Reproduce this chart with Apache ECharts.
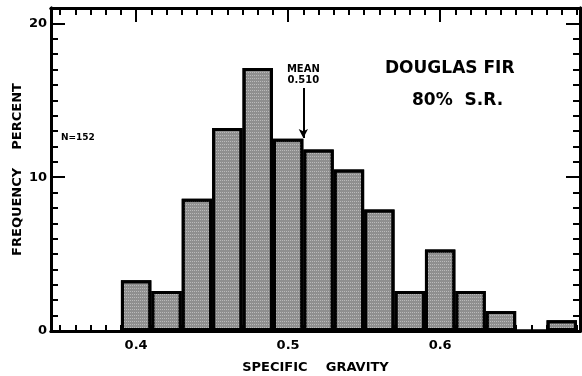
<!DOCTYPE html>
<html>
<head>
<meta charset="utf-8">
<script src="https://cdn.jsdelivr.net/npm/echarts@6/dist/echarts.min.js"></script>
<style>
  html, body { margin: 0; padding: 0; background: #fff; }
  #main { width: 582px; height: 376px; }
</style>
</head>
<body>
<div id="main"></div>
<script>
// bin centres (specific gravity) and frequency percent (N = 152)
var binCenters = [0.40, 0.42, 0.44, 0.46, 0.48, 0.50, 0.52, 0.54, 0.56, 0.58, 0.60, 0.62, 0.64, 0.66, 0.68];
var freqPercent = [3.3, 2.6, 8.6, 13.2, 17.1, 12.5, 11.8, 10.5, 7.9, 2.6, 5.3, 2.6, 1.3, 0, 0.7];

var xMinorTicks = [0.35, 0.36, 0.37, 0.38, 0.39, 0.40, 0.41, 0.42, 0.43, 0.44, 0.45, 0.46, 0.47, 0.48, 0.49,
  0.50, 0.51, 0.52, 0.53, 0.54, 0.55, 0.56, 0.57, 0.58, 0.59, 0.60, 0.61, 0.62, 0.63, 0.64, 0.65, 0.66,
  0.67, 0.68, 0.69];
var xMajorTicks = [0.4, 0.5, 0.6];
var yMajorTicks = [0, 10, 20];
var meanValue = 0.510;

var FONT = 'DejaVu Sans';
var xMin = 0.344, xMax = 0.692;

function xAxisDef(pos, ticks, len, labels) {
  return {
    type: 'value', position: pos, min: xMin, max: xMax,
    axisLine: { show: true, onZero: false, lineStyle: { color: '#000', width: 3 } },
    axisTick: { show: true, inside: true, length: len, customValues: ticks, lineStyle: { color: '#000', width: 2 } },
    axisLabel: labels ? {
      show: true, customValues: labels, color: '#000', fontFamily: FONT, fontWeight: 'bold', fontSize: 13, margin: 8
    } : { show: false },
    splitLine: { show: false }
  };
}
function yAxisDef(pos, ticks, len, labels) {
  return {
    type: 'value', position: pos, min: 0, max: 21,
    axisLine: { show: true, lineStyle: { color: '#000', width: 3 } },
    axisTick: { show: true, inside: true, length: len, customValues: ticks, lineStyle: { color: '#000', width: 2 } },
    axisLabel: labels ? {
      show: true, customValues: labels, color: '#000', fontFamily: FONT, fontWeight: 'bold', fontSize: 13, margin: 4
    } : { show: false },
    splitLine: { show: false }
  };
}

var yMinor = [];
for (var i = 1; i <= 20; i++) yMinor.push(i);

var xBottom = xAxisDef('bottom', xMinorTicks, 6, null);
var xBottomMajor = xAxisDef('bottom', xMajorTicks, 12, xMajorTicks);
xBottomMajor.name = 'SPECIFIC    GRAVITY';
xBottomMajor.nameLocation = 'middle';
xBottomMajor.nameGap = 30;
xBottomMajor.nameTextStyle = { color: '#000', fontFamily: FONT, fontWeight: 'bold', fontSize: 13 };

var yLeftMinor = yAxisDef('left', yMinor, 7, null);
yLeftMinor.name = 'FREQUENCY    PERCENT';
yLeftMinor.nameLocation = 'middle';
yLeftMinor.nameGap = 27;
yLeftMinor.nameTextStyle = { color: '#000', fontFamily: FONT, fontWeight: 'bold', fontSize: 13 };

var option = {
  backgroundColor: '#fff',
  animation: false,
  grid: { left: 51, right: 2, top: 8, bottom: 45, containLabel: false, outerBoundsMode: 'none' },
  xAxis: [
    xBottom,
    xBottomMajor,
    xAxisDef('top', xMinorTicks, 7, null),
    xAxisDef('top', xMajorTicks, 14, null)
  ],
  yAxis: [
    yLeftMinor,
    yAxisDef('left', yMajorTicks, 14, yMajorTicks),
    yAxisDef('right', yMinor, 7, null),
    yAxisDef('right', yMajorTicks, 14, null)
  ],
  series: [{
    type: 'bar',
    xAxisIndex: 0,
    yAxisIndex: 0,
    barWidth: 30.4,
    data: binCenters.map(function (x, i) { return [x, freqPercent[i]]; }),
    itemStyle: {
      color: '#8f8f8f',
      borderColor: '#000',
      borderWidth: 3,
      decal: {
        symbol: 'rect', symbolSize: 1, color: 'rgba(230,230,230,0.5)',
        dashArrayX: [1, 1], dashArrayY: [1, 2], rotation: 0
      }
    },
    markLine: {
      silent: true,
      symbol: ['none', 'arrow'],
      symbolSize: [7, 9],
      lineStyle: { color: '#000', width: 2, type: 'solid' },
      label: {
        show: true, position: 'start', formatter: 'MEAN\n0.510',
        color: '#000', fontFamily: FONT, fontWeight: 'bold', fontSize: 10, lineHeight: 11, distance: 2
      },
      data: [[{ coord: [meanValue, 15.8] }, { coord: [meanValue, 12.55] }]]
    }
  }],
  graphic: [
    {
      type: 'text', left: 385, top: 60,
      style: { text: 'DOUGLAS FIR', fill: '#000', font: 'bold 17px "DejaVu Sans"' }
    },
    {
      type: 'text', left: 412, top: 92,
      style: { text: '80%  S.R.', fill: '#000', font: 'bold 17px "DejaVu Sans"' }
    },
    {
      type: 'text', left: 61, top: 133,
      style: { text: 'N=152', fill: '#000', font: 'bold 9px "DejaVu Sans"' }
    }
  ]
};

var chart = echarts.init(document.getElementById('main'));
chart.setOption(option);
</script>
</body>
</html>
